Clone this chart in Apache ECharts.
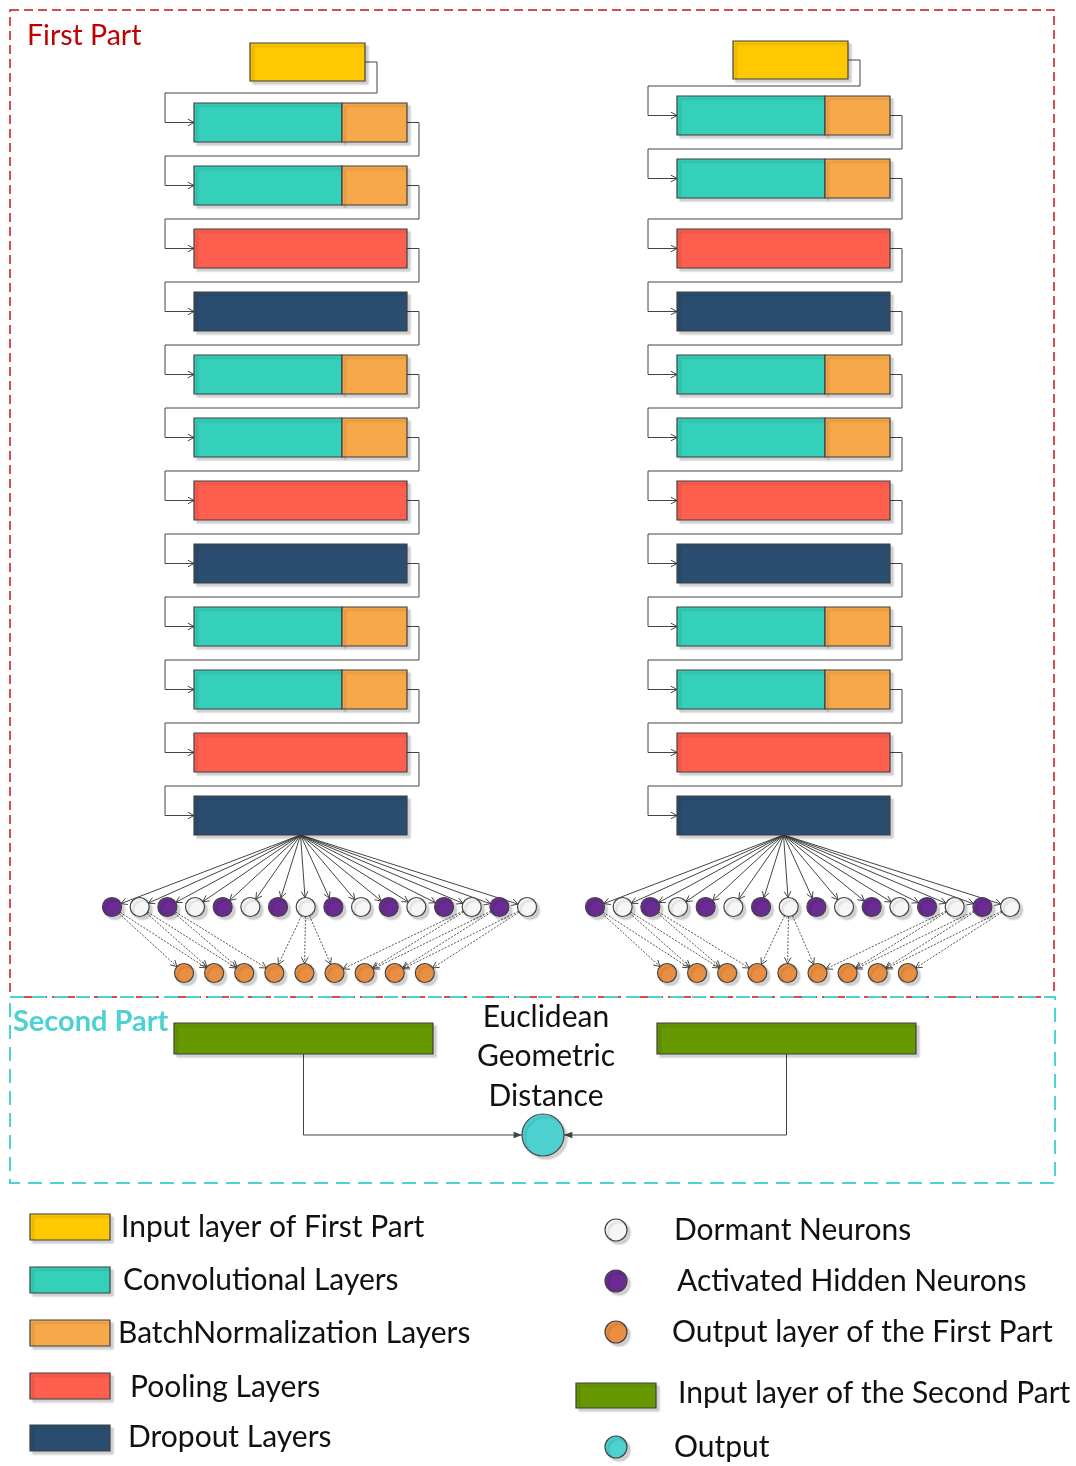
<!DOCTYPE html>
<html>
<head>
<meta charset="utf-8">
<title>Siamese network</title>
<script src="https://cdn.jsdelivr.net/npm/echarts@6/dist/echarts.min.js"></script>
<style>
html,body{margin:0;padding:0;background:#fff}
#main{width:1076px;height:1466px}
</style>
</head>
<body>
<div id="main"></div>
<script>
// layer stack of each tower (top to bottom, after the input layer)
var towerLayers = ['conv','conv','pool','drop','conv','conv','pool','drop','conv','conv','pool','drop'];
// hidden neurons, 1 = activated, 0 = dormant
var hiddenStates = [1,0,1,0,1,0,1,0,1,0,1,0,1,0,1,0];
var outputCount = 9;
// dotted links [hidden index, output index]
var hiddenLinks = [[0,0],[0,1],[1,1],[1,2],[2,2],[2,3],[7,3],[7,4],[7,5],[13,5],[13,6],[14,6],[14,7],[15,7],[15,8]];
var partNames = ['First Part','Second Part'];
var distanceLabel = ['Euclidean','Geometric','Distance'];
var legendBoxes = ['Input layer of First Part','Convolutional Layers','BatchNormalization Layers','Pooling Layers','Dropout Layers'];
var legendBoxKinds = ['input','conv','bn','pool','drop'];
var legendMarks = ['Dormant Neurons','Activated Hidden Neurons','Output layer of the First Part','Input layer of the Second Part','Output'];
var legendMarkKinds = ['dormant','active','out1','in2','out'];

// ---- layout & style ----
var W = 1076, H = 1466;
var colors = {
	input:'#FFC800', conv:'#35D0BA', bn:'#F7A84A', pool:'#FF5F4F', drop:'#2B4D6F',
	dormant:'#F6F6F6', active:'#6A2B93', out1:'#EA8F42', in2:'#669900', out:'#4DD1D1'
};
var font = 'Lato, "Open Sans", sans-serif';
var towerX = [194, 677];
var towerTopShift = [[0, 0, 0], [-2, -7, -7]]; // input, row 0, row 1
var boxW = 213, convW = 148, boxH = 39;
var rowTop0 = 103, rowStep = 63;
var inDx = 56, inW = 115, inTop = 43, inH = 38;
var hidY = 907, hidStep = 27.67, hidDx = -82, nr = 9.5;
var outY = 973, outStep = 30.1, outDx = -10;
var greenX = [174, 657], greenW = 259, greenTop = 1023, greenH = 31;
var distC = [543, 1135], distR = 21;
var shadow = {shadowBlur:2, shadowOffsetX:3, shadowOffsetY:3, shadowColor:'rgba(0,0,0,0.18)'};

// ---- build mark lists from the data ----
var rects = [];   // [x, y, w, h, kind]
var circles = []; // [cx, cy, r, kind]
var lines = [];   // {pts, dash, arrow}
var texts = [];   // [x, y, text, size, color, align, weight]

towerX.forEach(function(tx, t){
	function rowTop(i){ return rowTop0 + i * rowStep + (i < 2 ? towerTopShift[t][i + 1] : 0); }
	var it = inTop + towerTopShift[t][0];
	rects.push([tx + inDx, it, inW, inH, 'input']);
	towerLayers.forEach(function(k, i){
		if (k === 'conv') {
			rects.push([tx, rowTop(i), convW, boxH, 'conv']);
			rects.push([tx + convW, rowTop(i), boxW - convW, boxH, 'bn']);
		} else {
			rects.push([tx, rowTop(i), boxW, boxH, k]);
		}
		// connector from previous block into this one
		var pr = i === 0 ? tx + inDx + inW : tx + boxW;
		var py = i === 0 ? it + inH / 2 : rowTop(i - 1) + boxH / 2;
		var my = rowTop(i) + boxH / 2;
		lines.push({pts:[[pr, py],[pr + 12, py],[pr + 12, rowTop(i) - 10],[tx - 29, rowTop(i) - 10],[tx - 29, my],[tx, my]], arrow:'open'});
	});
	var fx = tx + boxW / 2, fy = rowTop(towerLayers.length - 1) + boxH;
	hiddenStates.forEach(function(s, j){
		var cx = tx + hidDx + j * hidStep;
		circles.push([cx, hidY, nr, s ? 'active' : 'dormant']);
		var dx = cx - fx, dy = hidY - fy, d = Math.sqrt(dx*dx + dy*dy);
		lines.push({pts:[[fx, fy],[cx - dx / d * nr, hidY - dy / d * nr]], arrow:'open'});
	});
	for (var k = 0; k < outputCount; k++) circles.push([tx + outDx + k * outStep, outY, nr, 'out1']);
	hiddenLinks.forEach(function(l){
		var x0 = tx + hidDx + l[0] * hidStep, x1 = tx + outDx + l[1] * outStep;
		var dx = x1 - x0, dy = outY - hidY, d = Math.sqrt(dx*dx + dy*dy);
		lines.push({pts:[[x0 + dx / d * nr, hidY + dy / d * nr],[x1 - dx / d * nr, outY - dy / d * nr]], arrow:'open', dash:true});
	});
});

greenX.forEach(function(gx, i){
	rects.push([gx, greenTop, greenW, greenH, 'in2']);
	var cx = gx + greenW / 2;
	var ex = i === 0 ? distC[0] - distR : distC[0] + distR;
	lines.push({pts:[[cx, greenTop + greenH],[cx, distC[1]],[ex, distC[1]]], arrow:'solid'});
});
circles.push([distC[0], distC[1], distR, 'out']);
distanceLabel.forEach(function(t, i){ texts.push([546, 1017 + i * 39.5, t, 30, '#111', 'center', 'normal']); });
texts.push([27, 36, partNames[0], 28.5, '#C00000', 'left', 'normal']);
texts.push([13, 1022, partNames[1], 29, '#4DD1D1', 'left', 'bold']);

var legLeftY = [1227, 1280, 1333, 1387, 1437];
var legLeftTx = [121, 123, 118, 130, 128];
legendBoxes.forEach(function(t, i){
	rects.push([30, [1227, 1280, 1333, 1386, 1438][i] - 13, 80, 26, legendBoxKinds[i]]);
	texts.push([legLeftTx[i], legLeftY[i], t, 30, '#111', 'left', 'normal']);
});
var legRightY = [1230, 1281, 1332, 1395, 1447];
var legRightTx = [674, 677, 672, 678, 674];
legendMarks.forEach(function(t, i){
	var k = legendMarkKinds[i];
	if (k === 'in2') rects.push([576, legRightY[i] - 12, 80, 25, k]);
	else circles.push([616, legRightY[i], 11, k]);
	texts.push([legRightTx[i], legRightY[i] - (k === 'in2' ? 2 : 0), t, 30, '#111', 'left', 'normal']);
});

// ---- render helpers (everything goes through the axis scales) ----
function rectShape(api, r){
	var p0 = api.coord([r[0], r[1]]), p1 = api.coord([r[0] + r[2], r[1] + r[3]]);
	return {x:p0[0], y:p0[1], width:p1[0] - p0[0], height:p1[1] - p0[1]};
}
function arrowHead(api, a, b, kind){
	var p = api.coord(b), q = api.coord(a);
	var ang = Math.atan2(p[1] - q[1], p[0] - q[0]), L = kind === 'solid' ? 9 : 7, s = kind === 'solid' ? 0.38 : 0.5;
	var l = [p[0] - L * Math.cos(ang - s), p[1] - L * Math.sin(ang - s)];
	var r = [p[0] - L * Math.cos(ang + s), p[1] - L * Math.sin(ang + s)];
	if (kind === 'solid') return {type:'polygon', shape:{points:[l, p, r]}, style:{fill:'#444'}};
	return {type:'polyline', shape:{points:[l, p, r]}, style:{fill:null, stroke:'#444', lineWidth:1}};
}

var option = {
	animation:false,
	grid:{left:0, right:0, top:0, bottom:0},
	xAxis:{type:'value', min:0, max:W, show:false},
	yAxis:{type:'value', min:0, max:H, inverse:true, show:false},
	series:[
		{
			// dashed frames of the two parts
			type:'custom', silent:true, data:[0, 1],
			renderItem:function(p, api){
				var f = p.dataIndex === 0 ? [10, 10, 1044, 987] : [10, 997, 1045, 186];
				return {type:'rect', shape:rectShape(api, f), style:{
					fill:null,
					stroke:p.dataIndex === 0 ? '#D01010' : '#4DD1D1',
					lineWidth:p.dataIndex === 0 ? 1.5 : 2,
					lineDash:p.dataIndex === 0 ? [9, 5] : [14, 8]
				}, z2:p.dataIndex};
			}
		},
		{
			type:'custom', silent:true, data:lines.map(function(l, i){ return i; }),
			renderItem:function(p, api){
				var l = lines[p.dataIndex];
				var pts = l.pts.map(function(q){ return api.coord(q); });
				var n = l.pts.length;
				return {type:'group', children:[
					{type:'polyline', shape:{points:pts}, style:{fill:null, stroke:l.dash ? '#555' : '#444', lineWidth:1, lineDash:l.dash ? [2, 1.5] : null}},
					arrowHead(api, l.pts[n - 2], l.pts[n - 1], l.arrow)
				]};
			}
		},
		{
			type:'custom', silent:true, data:rects.map(function(r, i){ return i; }),
			renderItem:function(p, api){
				var r = rects[p.dataIndex];
				return {type:'rect', shape:rectShape(api, r), style:Object.assign({fill:colors[r[4]], stroke:'#3f3f3f', lineWidth:1.2}, shadow)};
			}
		},
		{
			type:'custom', silent:true, data:circles.map(function(c, i){ return i; }),
			renderItem:function(p, api){
				var c = circles[p.dataIndex];
				var ctr = api.coord([c[0], c[1]]), e = api.coord([c[0] + c[2], c[1]]);
				return {type:'circle', shape:{cx:ctr[0], cy:ctr[1], r:e[0] - ctr[0]}, style:Object.assign({fill:colors[c[3]], stroke:'#444', lineWidth:1.2}, shadow)};
			}
		},
		{
			type:'custom', silent:true, data:texts.map(function(t, i){ return i; }),
			renderItem:function(p, api){
				var t = texts[p.dataIndex];
				var q = api.coord([t[0], t[1]]);
				return {type:'text', x:q[0], y:q[1], style:{text:t[2], fontSize:t[3], fontFamily:font, fontWeight:t[6], fill:t[4], align:t[5], verticalAlign:'middle'}};
			}
		}
	]
};

var myChart = echarts.init(document.getElementById('main'));
myChart.setOption(option);
</script>
</body>
</html>
